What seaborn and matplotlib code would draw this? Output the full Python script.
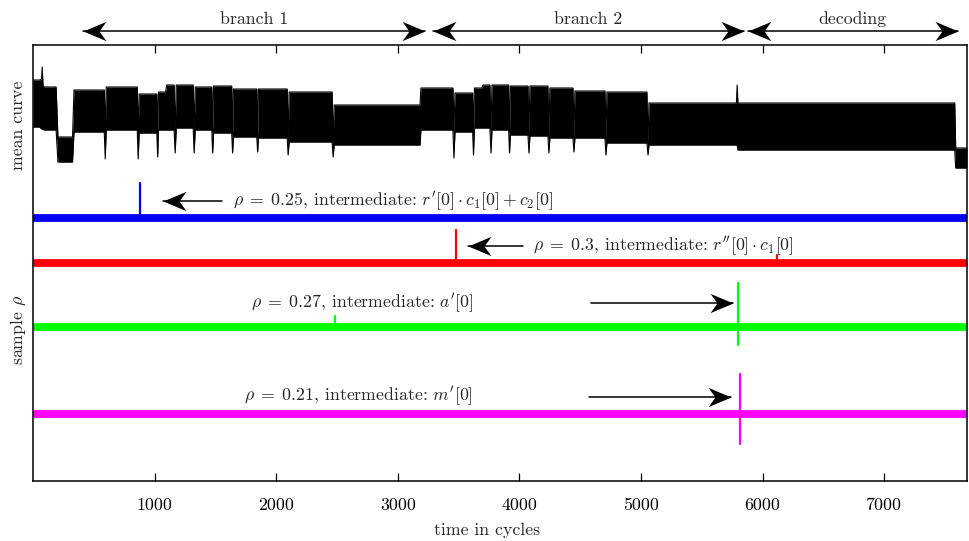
import numpy as np
import pandas as pd
import matplotlib
matplotlib.use("Agg")
import matplotlib.pyplot as plt
import seaborn as sns
from matplotlib.markers import MarkerStyle
from matplotlib.path import Path
from matplotlib.transforms import blended_transform_factory

# ---------------- data ----------------
# mean curve: envelope of the dense trace (time in cycles, upper / lower level, arbitrary units)
mean_t = [0, 55, 70, 76, 82, 90, 190, 205, 325, 337, 586, 594, 602, 857, 865, 873,
          1018, 1025, 1032, 1090, 1100, 1160, 1169, 1178, 1317, 1325, 1334, 1470, 1477,
          1485, 1634, 1641, 1648, 1840, 1847, 1854, 2090, 2098, 2106, 2459, 2468, 2476,
          3182, 3190, 3453, 3461, 3470, 3615, 3622, 3630, 3690, 3700, 3757, 3766, 3774,
          3911, 3918, 3926, 4070, 4078, 4086, 4234, 4242, 4250, 4440, 4448, 4456, 4703,
          4711, 4719, 5048, 5057, 5065, 5784, 5790, 5796, 7579, 7587, 7680]
mean_hi = [401, 401, 402, 414, 396, 394, 394, 344, 344, 391, 391, 350, 394, 394, 350, 387,
           387, 349, 389, 389, 396, 396, 351, 396, 396, 352, 394, 394, 350,
           395, 395, 347, 392, 392, 344, 392, 392, 342, 389, 389, 338, 376,
           376, 393, 393, 350, 388, 388, 349, 393, 393, 396, 396, 352, 396,
           396, 350, 395, 395, 346, 395, 395, 345, 393, 393, 343, 390, 390,
           342, 389, 389, 338, 378, 378, 396, 378, 378, 333, 333]
mean_lo = [354, 354, 352, 352, 352, 351, 351, 319, 319, 349, 349, 322, 351, 351, 322, 348,
           348, 324, 351, 351, 351, 351, 328, 353, 353, 328, 351, 351, 328,
           348, 348, 328, 344, 344, 329, 343, 343, 326, 339, 339, 324, 336,
           336, 351, 351, 323, 349, 349, 326, 353, 353, 353, 353, 328, 351,
           351, 328, 346, 346, 328, 345, 345, 328, 343, 343, 329, 343, 343,
           326, 338, 338, 326, 336, 336, 336, 331, 331, 313, 313]

# sample-correlation traces
trace_names = ["blue", "red", "green", "magenta"]
trace_colors = ["#0000ff", "#ff0000", "#00ff00", "#ff00ff"]
trace_level = [263, 218, 154, 67]
spike_time = [882, 3478, 5796, 5813]
spike_top = [298, 251, 198, 107]
spike_bottom = [263, 218, 136, 37]
bump_trace = ["green", "red"]
bump_time = [2484, 6115]
bump_top = [165, 226]

x_ticks = [1000, 2000, 3000, 4000, 5000, 6000, 7000]
t_end = 7680

labels = [r"$\rho\;=\;0.25$, intermediate: $r'[0]\cdot c_1[0]+c_2[0]$",
          r"$\rho\;=\;0.3$, intermediate: $r''[0]\cdot c_1[0]$",
          r"$\rho\;=\;0.27$, intermediate: $a'[0]$",
          r"$\rho\;=\;0.21$, intermediate: $m'[0]$"]

phases = ["branch 1", "branch 2", "decoding"]
phase_start = [413, 3290, 5878]
phase_end = [3224, 5846, 7603]

# ---------------- style ----------------
sns.set_theme(style="white")
plt.rcParams["font.family"] = ["cmr10", "DejaVu Serif"]
plt.rcParams["mathtext.fontset"] = "cm"
plt.rcParams["axes.unicode_minus"] = False
plt.rcParams["axes.formatter.use_mathtext"] = True
FS = 12.8

fig = plt.figure(figsize=(9.70, 5.41), dpi=100)
W, H = 970, 541
ax = fig.add_axes([33 / W, 1 - 481 / H, (967 - 33) / W, (481 - 45) / H])

# mean curve
ax.fill_between(mean_t, mean_lo, mean_hi, color="black", lw=0, zorder=2)
mdf = pd.DataFrame({"t": mean_t, "hi": mean_hi, "lo": mean_lo})
sns.lineplot(data=mdf, x="t", y="hi", color="black", lw=0.8, estimator=None, sort=False, ax=ax, zorder=3)
sns.lineplot(data=mdf, x="t", y="lo", color="black", lw=0.8, estimator=None, sort=False, ax=ax, zorder=3)

# traces
for name, col, lev, st, stop, sbot in zip(trace_names, trace_colors, trace_level,
                                           spike_time, spike_top, spike_bottom):
    df = pd.DataFrame({"t": [0, t_end], "v": [lev, lev]})
    sns.lineplot(data=df, x="t", y="v", color=col, lw=5.6, estimator=None, sort=False,
                 ax=ax, solid_capstyle="butt", zorder=2)
    sdf = pd.DataFrame({"t": [st, st], "v": [sbot, stop]})
    sns.lineplot(data=sdf, x="t", y="v", color=col, lw=1.6, estimator=None, sort=False,
                 ax=ax, zorder=3)
    for bn, bt, btop in zip(bump_trace, bump_time, bump_top):
        if bn == name:
            bdf = pd.DataFrame({"t": [bt, bt], "v": [lev, btop]})
            sns.lineplot(data=bdf, x="t", y="v", color=col, lw=1.6, estimator=None,
                         sort=False, ax=ax, zorder=3)

ax.set_xlim(0, t_end)
ax.set_ylim(0, 436)
ax.set_xticks(x_ticks)
ax.set_xticklabels([str(v) for v in x_ticks])
ax.set_yticks([])
ax.tick_params(axis="x", which="both", direction="in", length=6, width=0.9,
               top=True, bottom=True, labeltop=False, labelsize=FS, pad=12, colors="black")
for s in ax.spines.values():
    s.set_visible(True)
    s.set_color("black")
    s.set_linewidth(1.1)
ax.set_xlabel("time in cycles", fontsize=FS, labelpad=7)
ax.xaxis.label.set_x((487 - 33) / 934)
ax.set_ylabel("")

tr = blended_transform_factory(ax.transAxes, ax.transData)
ax.text(-0.016, 356, "mean curve", rotation=90, ha="center", va="center", fontsize=FS, transform=tr)
ax.text(-0.016, 151, r"sample $\rho$", rotation=90, ha="center", va="center", fontsize=FS, transform=tr)

# stealth arrow heads
verts = [(0, 0), (-1, 0.42), (-0.7, 0), (-1, -0.42), (0, 0)]
codes = [Path.MOVETO, Path.LINETO, Path.LINETO, Path.LINETO, Path.CLOSEPOLY]
head_r = MarkerStyle(Path(verts, codes))
head_l = MarkerStyle(Path([(-x, y) for x, y in verts], codes))


def arrow(x0, x1, y, both=False):
    ax.plot([x0, x1], [y, y], color="black", lw=1.1, clip_on=False, zorder=5)
    ax.plot([x1], [y], marker=head_r if x1 > x0 else head_l, ms=33, color="black",
            mew=0, clip_on=False, zorder=6)
    if both:
        ax.plot([x0], [y], marker=head_l if x1 > x0 else head_r, ms=33, color="black",
                mew=0, clip_on=False, zorder=6)


# annotations
arrow(1556, 1071, 280)
ax.text(1647, 280, labels[0], fontsize=FS, va="center", ha="left")
arrow(4029, 3577, 235)
ax.text(4111, 235, labels[1], fontsize=FS, va="center", ha="left")
ax.text(1794, 178, labels[2], fontsize=FS, va="center", ha="left")
arrow(4588, 5754, 178)
ax.text(1736, 85, labels[3], fontsize=FS, va="center", ha="left")
arrow(4572, 5738, 84)

for name, a, b in zip(phases, phase_start, phase_end):
    arrow(a, b, 450, both=True)
    ax.text((a + b) / 2, 462, name, fontsize=FS, ha="center", va="center", clip_on=False)

fig.savefig("out.png", dpi=100)
